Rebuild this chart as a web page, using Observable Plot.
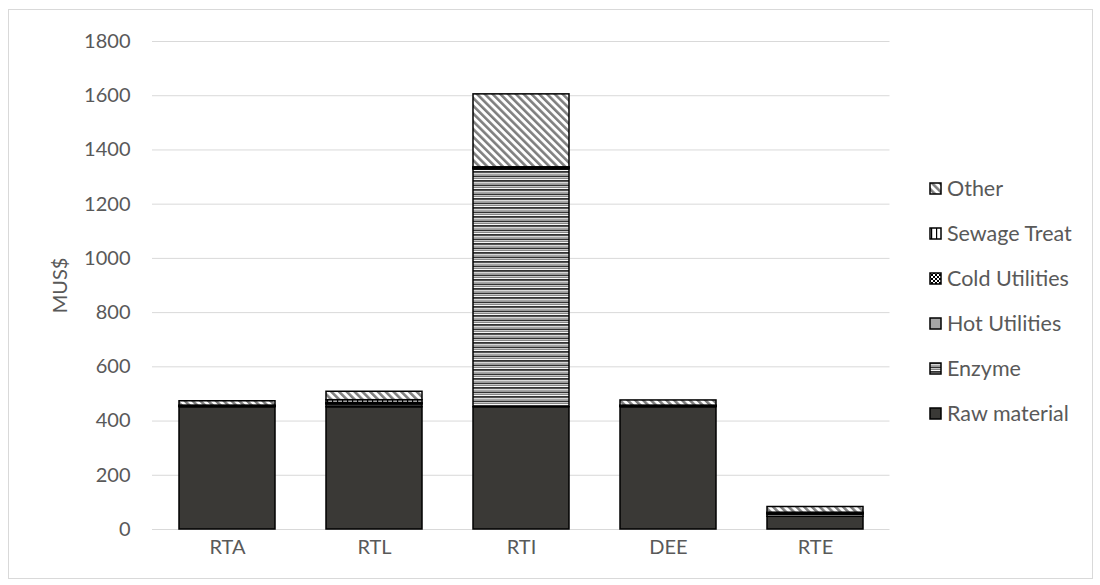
<!DOCTYPE html>
<html>
<head>
<meta charset="utf-8">
<script src="https://cdn.jsdelivr.net/npm/d3@7"></script>
<script src="https://cdn.jsdelivr.net/npm/@observablehq/plot@0.6"></script>
<style>
  html, body { margin: 0; padding: 0; background: #fff; }
  #wrap { position: relative; width: 1100px; height: 585px; font-family: Lato, "Liberation Sans", sans-serif; }
  #frame { position: absolute; left: 8px; top: 9px; width: 1083px; height: 568px; border: 1px solid #d9d9d9; pointer-events: none; }
  #legend { position: absolute; left: 929px; top: 0; }
  .item { position: absolute; left: 0; display: flex; align-items: center; white-space: nowrap; color: #595959; font-size: 21.5px; height: 24px; }
  .item svg { margin-right: 5px; }
</style>
</head>
<body>
<div id="wrap"><div id="chart"></div><div id="legend"></div><div id="frame"></div></div>
<script>
const categories = ["RTA", "RTL", "RTI", "DEE", "RTE"];
const series = ["Raw material", "Enzyme", "Hot Utilities", "Cold Utilities", "Sewage Treat", "Other"];
const rawMaterial   = [451, 451, 451, 451, 47];
const enzyme        = [0, 10, 877, 0, 8];
const hotUtilities  = [2, 3, 3, 2, 2];
const coldUtilities = [2, 3, 3, 2, 2];
const sewageTreat   = [2, 10, 2, 2, 3];
const other         = [16, 31, 269, 19, 21];
const yTicks = [0, 200, 400, 600, 800, 1000, 1200, 1400, 1600, 1800];

const values = [rawMaterial, enzyme, hotUtilities, coldUtilities, sewageTreat, other];
const fills = ["#3a3936", "url(#pEnzyme)", "#a6a6a6", "url(#pCold)", "url(#pSewage)", "url(#pOther)"];
const legendOrder = ["Other", "Sewage Treat", "Cold Utilities", "Hot Utilities", "Enzyme", "Raw material"];

const data = [];
series.forEach((s, i) => categories.forEach((c, j) => data.push({category: c, series: s, value: values[i][j]})));

const plot = Plot.plot({
  width: 1100,
  height: 585,
  marginLeft: 152,
  marginRight: 210.5,
  marginTop: 41,
  marginBottom: 56,
  style: {fontFamily: "Lato, 'Liberation Sans', sans-serif", fontSize: "20px", color: "#595959", background: "transparent"},
  x: {domain: categories, paddingInner: 0.35, paddingOuter: 0.175, label: null, tickSize: 0, tickPadding: 10},
  y: {domain: [0, 1800], ticks: yTicks, tickFormat: d => String(d), label: "MUS$", labelAnchor: "center", labelArrow: "none", labelOffset: 100, tickSize: 0, tickPadding: 22},
  color: {domain: series, range: fills},
  marks: [
    Plot.gridY(yTicks, {stroke: "#d9d9d9", strokeOpacity: 1, strokeWidth: 1}),
    Plot.barY(data, Plot.stackY({x: "category", y: "value", fill: "series", stroke: "#000", strokeWidth: 1.5, order: series}))
  ]
});

const svg = d3.select(plot);
const defs = svg.insert("defs", ":first-child");
// Enzyme: narrow horizontal stripes
const pe = defs.append("pattern").attr("id", "pEnzyme").attr("patternUnits", "userSpaceOnUse").attr("width", 8).attr("height", 4.5);
pe.append("rect").attr("width", 8).attr("height", 4.5).attr("fill", "#fff");
pe.append("rect").attr("y", 0).attr("width", 8).attr("height", 1.8).attr("fill", "#333");
pe.append("rect").attr("y", 2.7).attr("width", 8).attr("height", 0.9).attr("fill", "#6e6e6e");
// Cold: small checker
const pc = defs.append("pattern").attr("id", "pCold").attr("patternUnits", "userSpaceOnUse").attr("width", 4).attr("height", 4);
pc.append("rect").attr("width", 4).attr("height", 4).attr("fill", "#fff");
pc.append("rect").attr("width", 2).attr("height", 2).attr("fill", "#000");
pc.append("rect").attr("x", 2).attr("y", 2).attr("width", 2).attr("height", 2).attr("fill", "#000");
// Sewage: grid of vertical lines
const ps = defs.append("pattern").attr("id", "pSewage").attr("patternUnits", "userSpaceOnUse").attr("width", 5).attr("height", 5);
ps.append("rect").attr("width", 5).attr("height", 5).attr("fill", "#fff");
ps.append("rect").attr("x", 2).attr("width", 1.2).attr("height", 5).attr("fill", "#000");
// Other: wide downward diagonal
const po = defs.append("pattern").attr("id", "pOther").attr("patternUnits", "userSpaceOnUse").attr("width", 5.5).attr("height", 5.5).attr("patternTransform", "rotate(-45)");
po.append("rect").attr("width", 5.5).attr("height", 5.5).attr("fill", "#fff");
po.append("rect").attr("width", 2.6).attr("height", 5.5).attr("fill", "#7f7f7f");

document.getElementById("chart").appendChild(plot);

const legendCenters = [188, 233, 278, 323, 368, 413];
const legend = d3.select("#legend");
legendOrder.forEach((s, i) => {
  const item = legend.append("div").attr("class", "item").style("top", (legendCenters[i] - 12) + "px");
  const sw = item.append("svg").attr("width", 13).attr("height", 13);
  sw.append("rect").attr("x", 1).attr("y", 1).attr("width", 11).attr("height", 11)
    .attr("fill", fills[series.indexOf(s)]).attr("stroke", "#000").attr("stroke-width", 1.5);
  item.append("span").text(s);
});
</script>
</body>
</html>
